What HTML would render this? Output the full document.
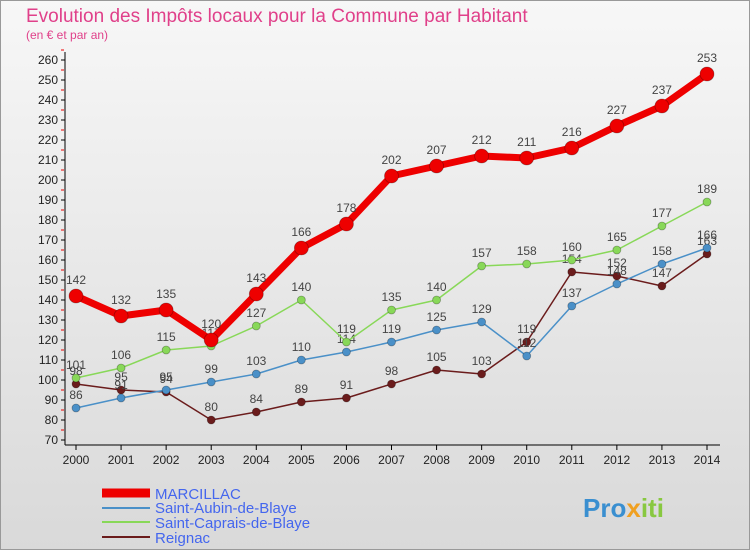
<!DOCTYPE html>
<html><head><meta charset="utf-8"><style>
body{margin:0;width:750px;height:550px;overflow:hidden;font-family:"Liberation Sans",sans-serif}
svg{display:block}
</style></head><body>
<svg id="c" width="750" height="550">
<defs><linearGradient id="bg" x1="0" y1="0" x2="0" y2="1"><stop offset="0" stop-color="#f7f7f7"/><stop offset="1" stop-color="#d9d9d9"/></linearGradient></defs>
<rect x="0.5" y="0.5" width="749" height="549" fill="url(#bg)" stroke="#999"/>
<text x="26" y="22" font-size="19" fill="#e0408a">Evolution des Impôts locaux pour la Commune par Habitant</text>
<text x="26" y="39" font-size="12" fill="#e0408a">(en € et par an)</text>
<g id="axes"></g><g id="series"></g>
<g>
<line x1="102" y1="493" x2="150" y2="493" stroke="#ee0000" stroke-width="9"/>
<text x="155" y="499" font-size="15" fill="#4466ee">MARCILLAC</text>
<line x1="102" y1="508" x2="150" y2="508" stroke="#4a90c8" stroke-width="2"/>
<text x="155" y="513" font-size="15" fill="#4466ee">Saint-Aubin-de-Blaye</text>
<line x1="102" y1="522" x2="150" y2="522" stroke="#88d858" stroke-width="2"/>
<text x="155" y="528" font-size="15" fill="#4466ee">Saint-Caprais-de-Blaye</text>
<line x1="102" y1="537" x2="150" y2="537" stroke="#6b1c1c" stroke-width="2"/>
<text x="155" y="543" font-size="15" fill="#4466ee">Reignac</text>
</g>
<text x="583" y="517" font-size="26" font-weight="bold" fill="#3a8fd0">Pro<tspan fill="#f0a020">x</tspan><tspan fill="#88c840">iti</tspan></text>
</svg>
<script>
const years=[2000,2001,2002,2003,2004,2005,2006,2007,2008,2009,2010,2011,2012,2013,2014];
const marcillac=[142,132,135,120,143,166,178,202,207,212,211,216,227,237,253];
const saintAubin=[86,91,95,99,103,110,114,119,125,129,112,137,148,158,166];
const saintCaprais=[101,106,115,117,127,140,119,135,140,157,158,160,165,177,189];
const reignac=[98,95,94,80,84,89,91,98,105,103,119,154,152,147,163];
const yTicks=[70,80,90,100,110,120,130,140,150,160,170,180,190,200,210,220,230,240,250,260];
const NS="http://www.w3.org/2000/svg";
const X=i=>76+i*(707-76)/(years.length-1);
const Y=v=>440-(v-70)*2;
function mk(p,t,a){const e=document.createElementNS(NS,t);for(const k in a)e.setAttribute(k,a[k]);p.appendChild(e);return e;}
const ax=document.getElementById('axes');
let l=mk(ax,'line',{x1:65,y1:52,x2:65,y2:445,stroke:'#000'});


l=mk(ax,'line',{x1:65,y1:445,x2:720,y2:445,stroke:'#000'});


yTicks.forEach(v=>{
 mk(ax,'line',{x1:61,y1:Y(v),x2:65,y2:Y(v),stroke:'#000'});
 mk(ax,'line',{x1:61,y1:Y(v)-10,x2:64,y2:Y(v)-10,stroke:'#e00'});
 const t=mk(ax,'text',{x:58,y:Y(v)+4,'font-size':12,'text-anchor':'end',fill:'#222'});
 t.textContent=v;
 
 
});
years.forEach((y,i)=>{
 mk(ax,'line',{x1:X(i),y1:445,x2:X(i),y2:450,stroke:'#000'});
 const t=mk(ax,'text',{x:X(i),y:464,'font-size':12,'text-anchor':'middle',fill:'#222'});
 t.textContent=y;
 
 
});
const sg=document.getElementById('series');
function draw(data,color,w,r,name){
 const g=mk(sg,'g',{});
 
 
 const pl=mk(g,'polyline',{points:data.map((v,i)=>X(i)+','+Y(v)).join(' '),fill:'none',stroke:color,'stroke-width':w,'stroke-linejoin':'round'});
 
 
 data.forEach((v,i)=>{
  const c=mk(g,'circle',{cx:X(i),cy:Y(v),r:r,fill:color,stroke:'rgba(0,0,0,0.3)','stroke-width':0.8});
  
  
  const t=mk(g,'text',{x:X(i),y:Y(v)-r-5,'font-size':12,'text-anchor':'middle',fill:'#444'});
  t.textContent=v;
  
  
 });
}
draw(reignac,'#6b1c1c',1.5,4,'reignac');
draw(saintAubin,'#4a90c8',1.5,4,'saint-aubin');
draw(saintCaprais,'#88d858',1.5,4,'saint-caprais');
draw(marcillac,'#ee0000',7,7,'marcillac');
</script>
</body></html>
